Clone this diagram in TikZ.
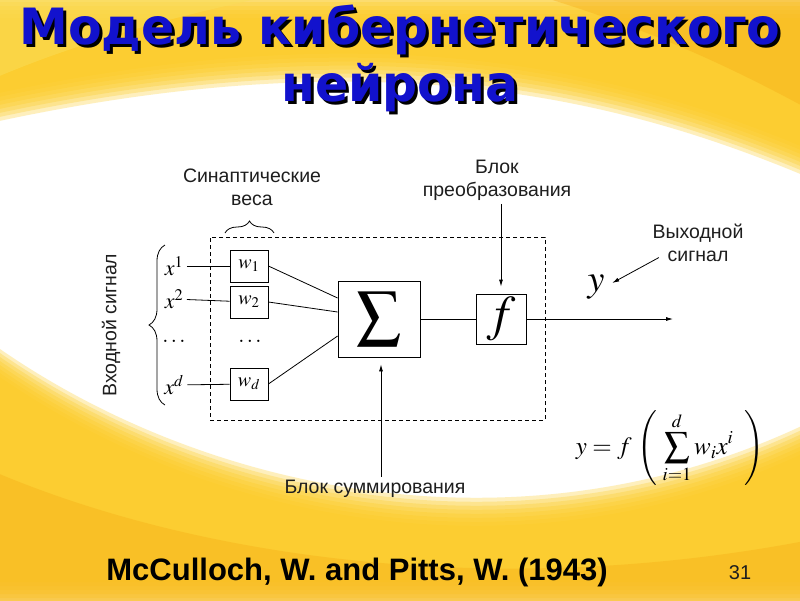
\documentclass[tikz,border=0pt]{standalone}
\usepackage{mathptmx}
\usepackage[no-math]{fontspec}
\setmainfont{Liberation Sans}
\newfontfamily\titlefont[FakeStretch=0.98]{DejaVu Sans}
\usetikzlibrary{arrows.meta,positioning,decorations.pathreplacing,calc}
\definecolor{bgyel}{RGB}{252,204,38}
\definecolor{bgpale}{RGB}{250,222,90}
\definecolor{bgorg}{RGB}{244,168,20}
\definecolor{titleblue}{RGB}{18,18,205}
\definecolor{ink}{RGB}{30,30,30}

\begin{document}
\begin{tikzpicture}[x=1pt,y=-1pt,line width=0.8pt,
    wbox/.style={draw,minimum width=38,minimum height=32,inner sep=0pt,font=\fontsize{20}{20}\selectfont},
    xin/.style={font=\fontsize{22}{22}\selectfont},
    lbl/.style={align=center,font=\fontsize{19.5}{23}\selectfont,text=ink},
    ttl/.style={align=center,font=\titlefont\bfseries\fontsize{50}{57}\selectfont},
    tip/.style={-{Latex[length=7pt,width=4pt]}}]
  % background
  \useasboundingbox (0,0) rectangle (800,600);
  \fill[white] (0,0) rectangle (800,600);
  \begin{scope}
    \clip (0,0) rectangle (800,600);
    \foreach \s in {0,...,7} {
      \fill[bgyel,fill opacity=0.3,yshift=-\s*4] (-10,-10) -- (810,-10) -- (810,150) .. controls (620,70) and (380,10) .. (-10,95) -- cycle;
      \fill[bgyel,fill opacity=0.3,yshift=\s*4] (-10,610) -- (-10,370) .. controls (200,520) and (520,590) .. (810,450) -- (810,610) -- cycle;
    }
    \fill[bgpale,fill opacity=0.5] (-10,-10) -- (300,-10) .. controls (150,20) and (60,50) .. (-10,80) -- cycle;
    \fill[bgorg,fill opacity=0.35] (520,-10) -- (810,-10) -- (810,110) .. controls (700,50) and (620,20) .. (520,-10) -- cycle;
    \fill[bgorg,fill opacity=0.35] (-10,610) -- (-10,470) .. controls (200,560) and (500,600) .. (810,540) -- (810,610) -- cycle;
  \end{scope}
  % title
  \node[ttl,text=black] (titleshadow) at (403,61) {Модель кибернетического\\нейрона};
  \node[ttl,text=titleblue] (title) at (400,58) {Модель кибернетического\\нейрона};
  % neuron
  \node[draw,dashed,dash pattern=on 4pt off 3pt,minimum width=335,minimum height=183] (frame) at (377.5,328.5) {};
  \node[xin] (x1) at (174,266) {$x^1$};
  \node[xin] (x2) at (174,299) {$x^2$};
  \node[xin] (xdots) at (174,341) {$\dots$};
  \node[xin] (xd) at (174,385) {$x^d$};
  \node[wbox] (w1) at (249,266) {$w_1$};
  \node[wbox] (w2) at (249,302) {$w_2$};
  \node[xin] (wdots) at (250,341) {$\dots$};
  \node[wbox] (wd) at (249,384) {$w_d$};
  \node[draw,minimum width=82,minimum height=76,inner sep=0pt] (sum) at (379,319) {\fontsize{44}{44}\selectfont$\displaystyle\sum$};
  \node[draw,minimum size=50,inner sep=0pt] (f) at (501,319) {\fontsize{50}{50}\selectfont$f$};
  \node (yout) at (596,287) {\fontsize{38}{38}\selectfont$y$};
  \coordinate (yend) at (673,319);
  \draw (x1) -- (w1);
  \draw (x2) -- (w2);
  \draw (xd) -- (wd);
  \draw (w1.east) -- ($(sum.west)+(0,-21)$);
  \draw (w2.east) -- ($(sum.west)+(0,-7)$);
  \draw (wd.east) -- ($(sum.west)+(0,17)$);
  \draw (sum) -- (f);
  \draw[tip] (f) -- (yend);
  % braces
  \draw[decorate,decoration={brace,amplitude=12pt}] (225,233) -- (274,233);
  \draw[decorate,decoration={brace,amplitude=16pt}] (165,405) -- (165,245);
  % labels
  \node[lbl] (synlab) at (252,187) {Синаптические\\веса};
  \node[lbl] (tlab) at (497,180) {Блок\\преобразования};
  \node[lbl] (outlab) at (698,243) {Выходной\\сигнал};
  \node[lbl] (slab) at (375,489) {Блок суммирования};
  \node[lbl,rotate=90] (inlab) at (111,325) {Входной сигнал};
  \draw[tip,shorten >=7pt] (tlab.south -| f.north) -- (f.north);
  \draw[tip] ($(slab.north)+(6,0)$) -- ($(sum.south)+(2,7)$);
  \draw[tip] ($(outlab.south west)+(10,-8)$) -- ($(yout.east)+(4,-4)$);
  % formula
  \node[font=\fontsize{25}{28}\selectfont] (formula) at (670,448) {$y = f\,\left(\;\displaystyle\sum_{i=1}^{d} w_i x^i\;\;\right)$};
  % footer
  \node[font=\bfseries\fontsize{31}{34}\selectfont] (cite) at (357,572) {McCulloch, W. and Pitts, W. (1943)};
  \node[font=\fontsize{20}{20}\selectfont,text=ink] (page) at (740,573) {31};
\end{tikzpicture}
\end{document}
